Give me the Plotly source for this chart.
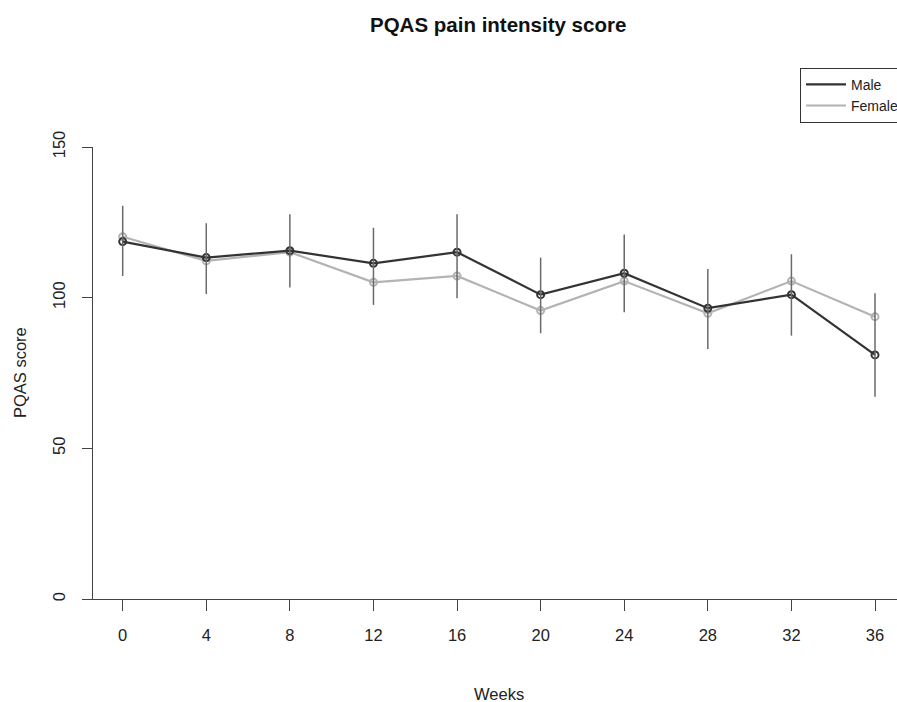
import plotly.graph_objects as go

weeks = [0, 4, 8, 12, 16, 20, 24, 28, 32, 36]
male = [118.6, 113.3, 115.6, 111.4, 115.1, 101.0, 108.1, 96.5, 101.0, 81.0]
female = [120.2, 112.2, 115.1, 105.1, 107.2, 95.7, 105.5, 94.8, 105.5, 93.7]
err_low = [107.2, 101.2, 103.4, 97.6, 99.8, 88.2, 95.2, 83.0, 87.4, 67.1]
err_high = [130.5, 124.7, 127.7, 123.2, 127.7, 113.3, 121.0, 109.5, 114.4, 101.5]
y_ticks = [0, 50, 100, 150]

W, H = 897, 702
L, R, T, B = 93, 0, 147, 103
PW, PH = W - L - R, H - T - B
FONT = "Arial, Liberation Sans, sans-serif"

def px(x):
    return (x - L) / PW

def py(y):
    return (H - B - y) / PH

MALE_C = "#333333"
FEMALE_C = "#b3b3b3"

fig = go.Figure()

fig.add_trace(go.Scatter(
    x=weeks, y=female, mode="lines+markers", showlegend=False,
    line=dict(color=FEMALE_C, width=2.2),
    marker=dict(symbol="circle-open", size=7, color=FEMALE_C, line=dict(width=2)),
))
fig.add_trace(go.Scatter(
    x=weeks, y=male, mode="lines+markers", showlegend=False,
    line=dict(color=MALE_C, width=2.2),
    marker=dict(symbol="circle-open", size=7, color=MALE_C, line=dict(width=2)),
))

ex, ey = [], []
for w, lo, hi in zip(weeks, err_low, err_high):
    ex += [w, w, None]
    ey += [lo, hi, None]
fig.add_trace(go.Scatter(
    x=ex, y=ey, mode="lines", showlegend=False,
    line=dict(color="#6a6a6a", width=1.5),
))

# legend-only entries
fig.add_trace(go.Scatter(x=[None], y=[None], mode="lines", name="Male",
                         line=dict(color=MALE_C, width=2.2)))
fig.add_trace(go.Scatter(x=[None], y=[None], mode="lines", name="Female",
                         line=dict(color=FEMALE_C, width=2.2)))

fig.update_layout(
    width=W, height=H,
    margin=dict(l=L, r=R, t=T, b=B, pad=0, autoexpand=False),
    paper_bgcolor="white", plot_bgcolor="white",
    font=dict(family=FONT, size=16.5, color="#222222"),
    showlegend=True,
    legend=dict(
        x=px(800), y=py(67.7), xanchor="left", yanchor="top",
        bordercolor="#333333", borderwidth=1, bgcolor="white",
        font=dict(size=14, family=FONT, color="#222222"),
        tracegroupgap=0, itemwidth=40, entrywidth=110, entrywidthmode="pixels",
    ),
    xaxis=dict(
        range=[-1.421, 37.053], tickmode="array", tickvals=weeks,
        ticktext=[str(w) for w in weeks], automargin=False,
        showgrid=False, zeroline=False, showline=True, linecolor="#444444",
        linewidth=1, ticks="outside", ticklen=11, tickcolor="#444444",
        tickfont=dict(size=16.5), ticklabelstandoff=10,
    ),
    yaxis=dict(
        range=[0, 150], tickmode="array", tickvals=y_ticks,
        ticktext=[str(v) for v in y_ticks], automargin=False,
        showgrid=False, zeroline=False, showline=True, linecolor="#444444",
        linewidth=1, ticks="outside", ticklen=10, tickcolor="#444444",
        tickangle=-90, tickfont=dict(size=16.5), ticklabelstandoff=10,
    ),
    annotations=[
        dict(text="<b>PQAS pain intensity score</b>", x=px(498), y=py(24.5),
             xref="paper", yref="paper", showarrow=False, xanchor="center",
             yanchor="middle", font=dict(size=20.5, family=FONT, color="#111111")),
        dict(text="Weeks", x=px(499), y=py(694), xref="paper", yref="paper",
             showarrow=False, xanchor="center", yanchor="middle",
             font=dict(size=16.5, family=FONT, color="#222222")),
        dict(text="PQAS score", x=px(20), y=py(373), xref="paper", yref="paper",
             showarrow=False, xanchor="center", yanchor="middle", textangle=-90,
             font=dict(size=16.5, family=FONT, color="#222222")),
    ],
)

fig.write_html("out.html")
